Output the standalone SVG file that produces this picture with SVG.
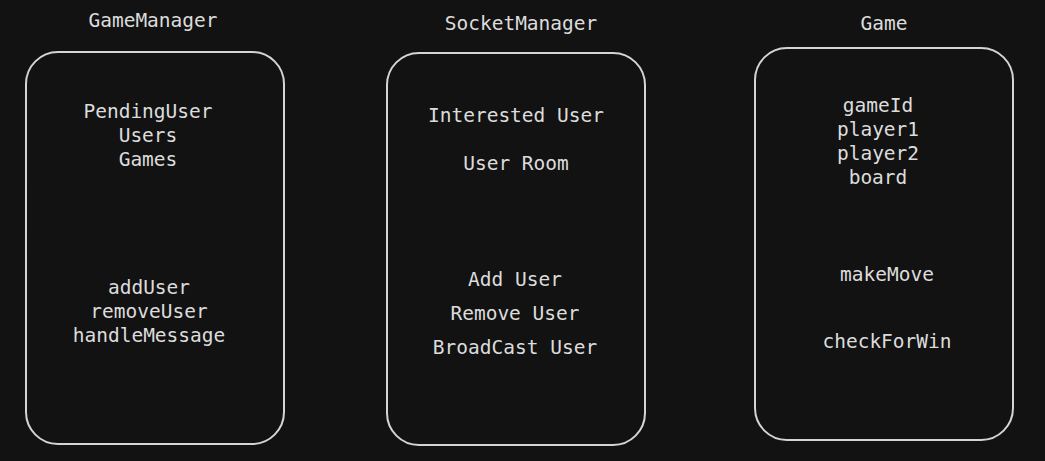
<svg xmlns="http://www.w3.org/2000/svg" width="1045" height="461" viewBox="0 0 1045 461">
<style>
.box{fill:none;stroke:#d4d4d4;stroke-width:2}
text{font-family:"DejaVu Sans Mono","Liberation Mono",monospace;font-size:19.5px;fill:#dcdcdc;text-anchor:middle}
</style>
<rect width="1045" height="461" fill="#121212"/>
<g id="connectors"></g>
<g id="gamemanager">
<text x="153" y="27">GameManager</text>
<rect class="box" x="26" y="52" width="258" height="392" rx="32"/>
<text x="148" y="118">PendingUser</text>
<text x="148" y="142">Users</text>
<text x="148" y="166">Games</text>
<text x="149" y="294">addUser</text>
<text x="149" y="318">removeUser</text>
<text x="149" y="342">handleMessage</text>
</g>
<g id="socketmanager">
<text x="521" y="30">SocketManager</text>
<rect class="box" x="387" y="53" width="258" height="392" rx="32"/>
<text x="516" y="122">Interested User</text>
<text x="516" y="170">User Room</text>
<text x="515" y="286">Add User</text>
<text x="515" y="320">Remove User</text>
<text x="515" y="354">BroadCast User</text>
</g>
<g id="game">
<text x="884" y="30">Game</text>
<rect class="box" x="755" y="48" width="258" height="392" rx="32"/>
<text x="878" y="112">gameId</text>
<text x="878" y="136">player1</text>
<text x="878" y="160">player2</text>
<text x="878" y="184">board</text>
<text x="887" y="281">makeMove</text>
<text x="887" y="348">checkForWin</text>
</g>
</svg>
